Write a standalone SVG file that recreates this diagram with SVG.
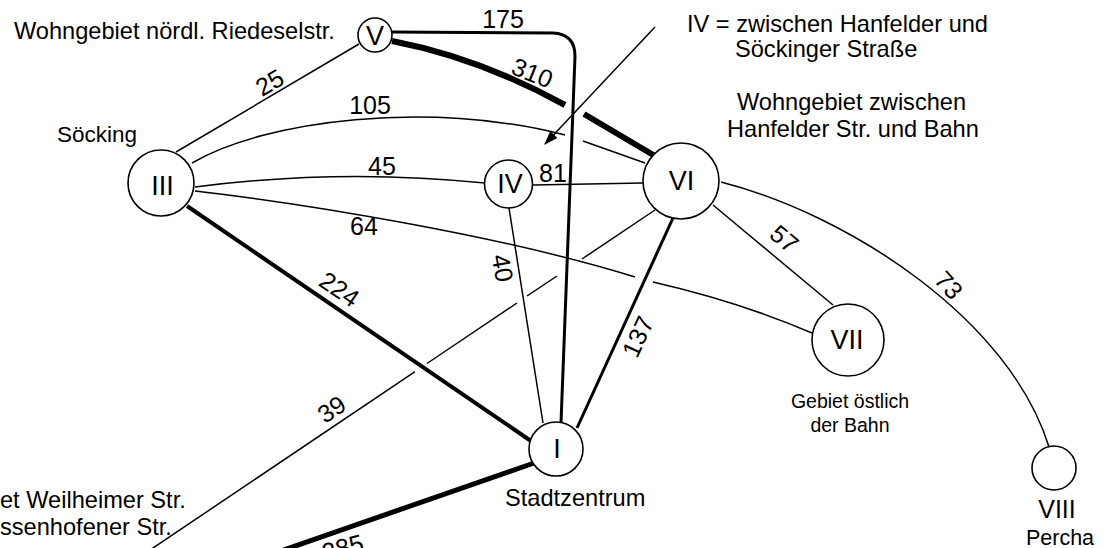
<svg xmlns="http://www.w3.org/2000/svg" width="1108" height="548" viewBox="0 0 1108 548">
<defs>
<style>
.t{font-family:"Liberation Sans",Arial,Helvetica,sans-serif;fill:#000}
.num{font-size:27px;text-anchor:middle}
.lbl{font-size:23.6px}
.wt{font-size:25px;text-anchor:middle}
.e{fill:none;stroke:#000;stroke-width:1.5;stroke-linecap:butt}
.e3{stroke-width:3}
.e4{stroke-width:4}
.e5{stroke-width:5}
.e6{stroke-width:6}
.node circle{fill:#fff;stroke:#000;stroke-width:1.6}
</style>
<marker id="ah" markerWidth="14" markerHeight="10" refX="13" refY="5" orient="auto" markerUnits="userSpaceOnUse"><path d="M0,0 L14,5 L0,10 z" fill="#000"/></marker>
</defs>
<rect width="1108" height="548" fill="#fff"/>
<g id="connectors">
<path class="e" d="M176,152 L359,44"/>
<path class="e e6" d="M392,41 Q480,58 565,105"/>
<path class="e e6" d="M584,114 L655,156"/>
<path class="e" d="M192,163 C265,120 430,100 565,135"/>
<path class="e" d="M583,141 L645,163"/>
<path class="e" d="M195,187 Q340,168 485,183"/>
<path class="e" d="M533,185 L643,183"/>
<path class="e" d="M195,191 C300,203 500,235 635,277"/>
<path class="e" d="M653,282 Q740,302 812,333"/>
<path class="e e4" d="M187,206 L531,441"/>
<path class="e e5" d="M534,463 L278,552"/>
<path class="e" d="M655,210 L582,259"/>
<path class="e" d="M557,276 L527,296"/>
<path class="e" d="M517,303 L427,363.5"/>
<path class="e" d="M415,371.6 L150,550"/>
<path class="e" d="M509,208 L543,423"/>
<path class="e e3" d="M673,218 L577,428"/>
<path class="e" d="M713,205 L833,305"/>
<path class="e" d="M721,182 C850,215 1010,320 1049,447"/>
<path class="e e3" d="M392,32 L553,33 Q575,34 575,56 L561,423"/>
<path class="e" d="M655,27 L545,144" marker-end="url(#ah)"/>
</g>
<g id="weights">
<text class="t wt" x="503" y="28">175</text>
<text class="t wt" transform="translate(529,81) rotate(22)">310</text>
<text class="t wt" transform="translate(274,90) rotate(-30)">25</text>
<text class="t wt" x="370" y="114">105</text>
<text class="t wt" x="382" y="175">45</text>
<text class="t wt" x="553" y="182">81</text>
<text class="t wt" x="364" y="235">64</text>
<text class="t wt" transform="translate(334.5,296.5) rotate(34)">224</text>
<text class="t wt" transform="translate(494,269.6) rotate(80)">40</text>
<text class="t wt" transform="translate(645.7,340.3) rotate(-65)">137</text>
<text class="t wt" transform="translate(336.5,416.5) rotate(-34)">39</text>
<text class="t wt" transform="translate(778.7,245.4) rotate(40)">57</text>
<text class="t wt" transform="translate(942.3,291) rotate(48)">73</text>
<text class="t wt" transform="translate(345,556) rotate(-15)">285</text>
</g>
<g id="node-III" class="node"><circle cx="161" cy="183" r="33"/><text class="t num" x="162.5" y="195">III</text></g>
<g id="node-V" class="node"><circle cx="375" cy="35" r="17"/><text class="t num" x="375" y="45">V</text></g>
<g id="node-IV" class="node"><circle cx="508.5" cy="184" r="24"/><text class="t num" x="510" y="193">IV</text></g>
<g id="node-VI" class="node"><circle cx="681" cy="181" r="38"/><text class="t num" x="681.5" y="190">VI</text></g>
<g id="node-VII" class="node"><circle cx="848" cy="340" r="36"/><text class="t num" x="847" y="349">VII</text></g>
<g id="node-I" class="node"><circle cx="556" cy="449" r="27"/><text class="t num" x="557" y="458">I</text></g>
<g id="node-VIII" class="node"><circle cx="1054" cy="468" r="22"/><text class="t num" x="1057" y="518" style="font-size:25px">VIII</text></g>
<g id="labels">
<text class="t lbl" x="14" y="39">Wohngebiet nördl. Riedeselstr.</text>
<text class="t lbl" x="57" y="142" style="font-size:22.5px">Söcking</text>
<text class="t lbl" x="687" y="32">IV = zwischen Hanfelder und</text>
<text class="t lbl" x="735" y="57">Söckinger Straße</text>
<text class="t lbl" x="737" y="110">Wohngebiet zwischen</text>
<text class="t lbl" x="727" y="137">Hanfelder Str. und Bahn</text>
<text class="t lbl" x="850" y="408" style="font-size:19.5px;text-anchor:middle">Gebiet östlich</text>
<text class="t lbl" x="850" y="432" style="font-size:19.5px;text-anchor:middle">der Bahn</text>
<text class="t lbl" x="1060" y="545" style="font-size:21.5px;text-anchor:middle">Percha</text>
<text class="t lbl" x="505" y="506">Stadtzentrum</text>
<text class="t lbl" x="0" y="508">et Weilheimer Str.</text>
<text class="t lbl" x="0" y="535">ssenhofener Str.</text>
</g>
</svg>
